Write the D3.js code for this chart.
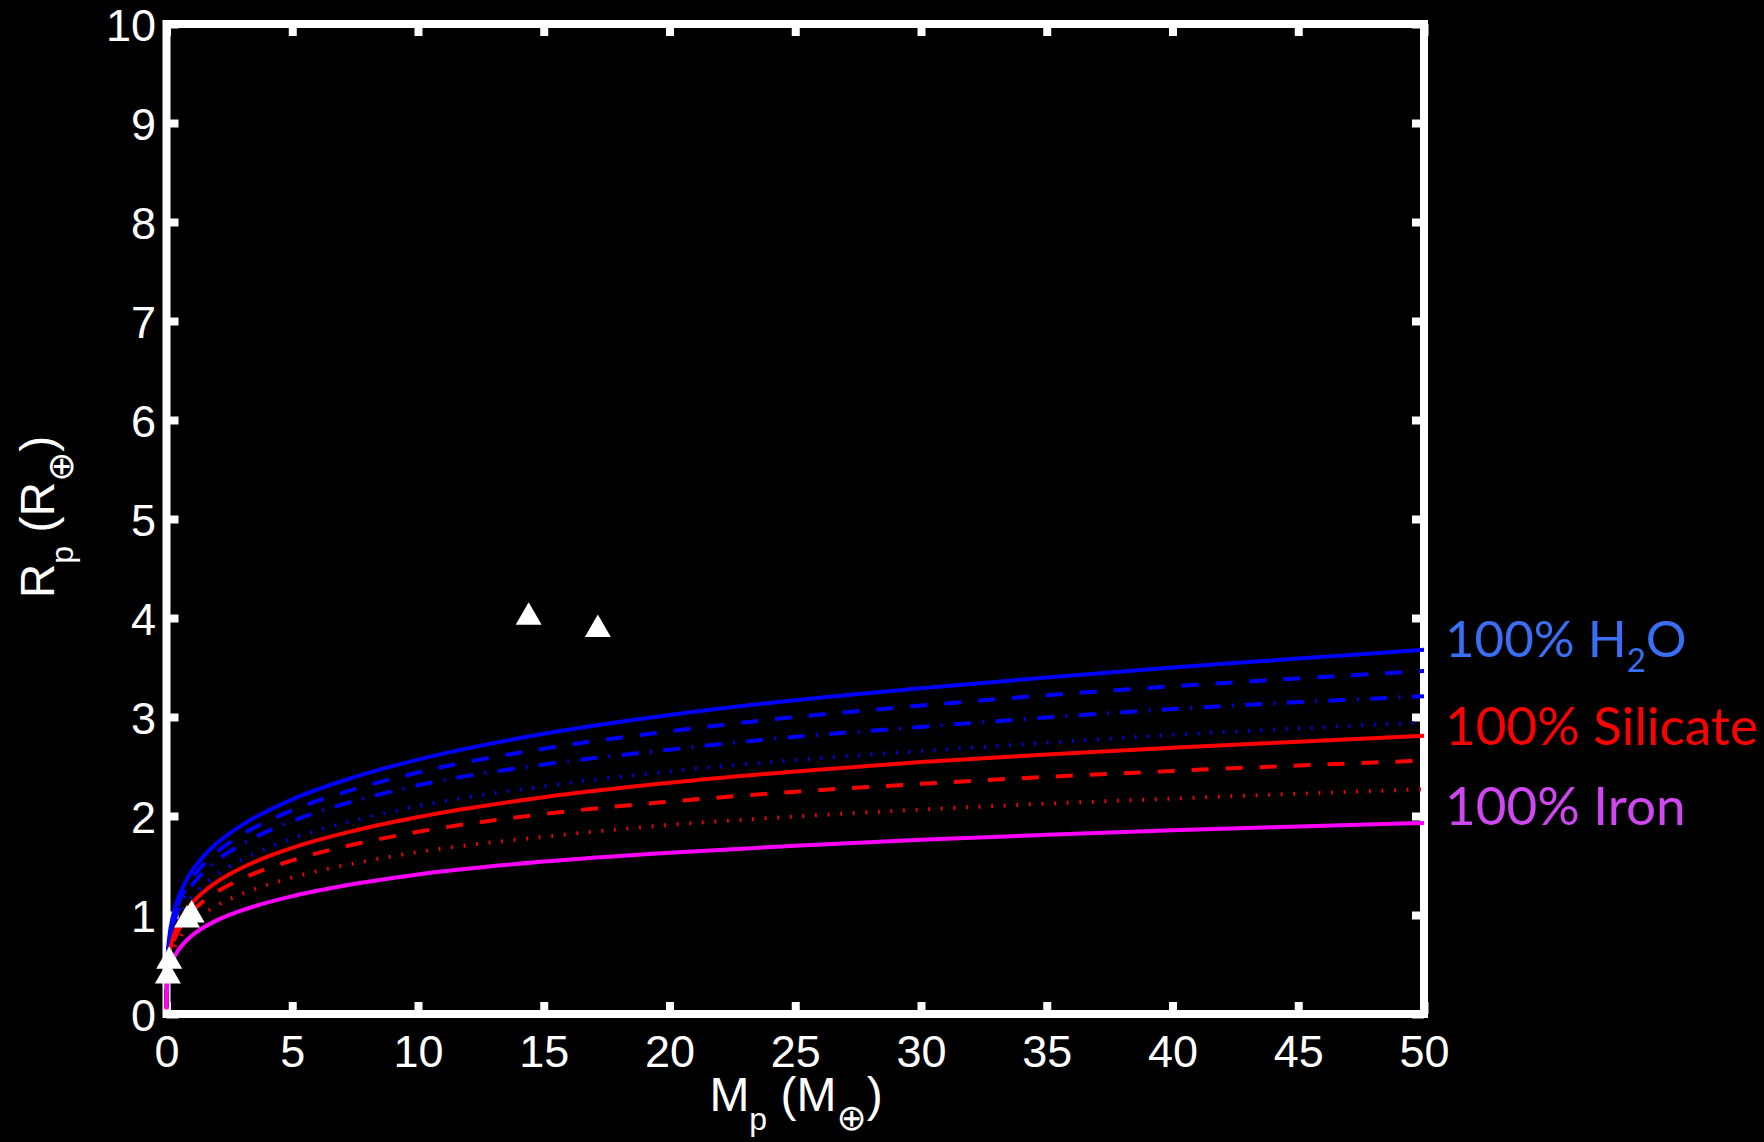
<!DOCTYPE html>
<html>
<head>
<meta charset="utf-8">
<script src="https://cdn.jsdelivr.net/npm/d3@7"></script>
<style>
  html, body { margin: 0; padding: 0; background: #000; }
  svg { display: block; }
</style>
</head>
<body>
<svg id="chart" width="1764" height="1142"></svg>
<script>
// Planet mass (Earth masses) sampled along every model curve
const masses = [0.0001, 0.001, 0.01, 0.05, 0.1, 0.25, 0.5, 0.75, 1, 1.5, 2, 3, 5, 7.5, 10, 15, 20, 25, 30, 35, 40, 45, 50];

// Radii (Earth radii) for each composition model
const rWater100 = [0.083, 0.178, 0.372, 0.612, 0.754, 0.983, 1.194, 1.332, 1.44, 1.60, 1.724, 1.908, 2.168, 2.395, 2.57, 2.83, 3.02, 3.17, 3.29, 3.40, 3.50, 3.59, 3.68];
const rWater75  = [0.079, 0.169, 0.353, 0.581, 0.716, 0.933, 1.133, 1.264, 1.367, 1.518, 1.636, 1.811, 2.057, 2.273, 2.44, 2.68, 2.855, 3.00, 3.115, 3.22, 3.31, 3.39, 3.465];
const rWater50  = [0.075, 0.160, 0.334, 0.550, 0.678, 0.884, 1.073, 1.197, 1.295, 1.438, 1.550, 1.715, 1.949, 2.153, 2.31, 2.52, 2.67, 2.80, 2.90, 2.995, 3.08, 3.15, 3.21];
const rWater25  = [0.068, 0.145, 0.304, 0.500, 0.616, 0.803, 0.975, 1.088, 1.176, 1.307, 1.409, 1.559, 1.771, 1.957, 2.10, 2.30, 2.45, 2.565, 2.655, 2.74, 2.82, 2.885, 2.945];
const rSilicate100 = [0.064, 0.138, 0.288, 0.474, 0.584, 0.761, 0.924, 1.031, 1.115, 1.238, 1.334, 1.477, 1.678, 1.854, 1.99, 2.19, 2.335, 2.45, 2.545, 2.62, 2.69, 2.75, 2.81];
const rSilicate67  = [0.059, 0.127, 0.266, 0.438, 0.540, 0.704, 0.855, 0.954, 1.031, 1.146, 1.234, 1.366, 1.552, 1.715, 1.84, 2.02, 2.145, 2.245, 2.325, 2.395, 2.455, 2.51, 2.56];
const rSilicate33  = [0.053, 0.113, 0.237, 0.389, 0.480, 0.625, 0.759, 0.847, 0.916, 1.018, 1.096, 1.213, 1.379, 1.523, 1.635, 1.79, 1.91, 1.995, 2.065, 2.125, 2.175, 2.225, 2.27];
const rIron100 = [0.046, 0.098, 0.204, 0.336, 0.414, 0.540, 0.656, 0.731, 0.791, 0.878, 0.946, 1.047, 1.190, 1.315, 1.41, 1.54, 1.63, 1.70, 1.76, 1.81, 1.855, 1.895, 1.93];

// Solar-system planets
const planetNames  = ["Mercury", "Venus", "Earth", "Mars", "Uranus", "Neptune"];
const planetMass   = [0.055, 0.815, 1.0, 0.107, 14.4, 17.15];
const planetRadius = [0.383, 0.950, 1.0, 0.532, 4.007, 3.883];

// Axis ticks
const xTicks = [0, 5, 10, 15, 20, 25, 30, 35, 40, 45, 50];
const yTicks = [0, 1, 2, 3, 4, 5, 6, 7, 8, 9, 10];

// Labels at the right of the frame
const labelParts = [
  [["100% H", 0], ["2", 1], ["O", 0]],
  [["100% Silicate", 0]],
  [["100% Iron", 0]]
];

// ---- drawing ----
const svg = d3.select("#chart");
const W = 1764, H = 1142;
const plot = { left: 166.5, right: 1424, top: 24, bottom: 1014 };

svg.append("rect").attr("width", W).attr("height", H).attr("fill", "#000");

const x = d3.scaleLinear().domain([0, 50]).range([plot.left, plot.right]);
const y = d3.scaleLinear().domain([0, 10]).range([plot.bottom, plot.top]);

const tickFont = "'Liberation Sans', Arial, Helvetica, sans-serif";
const axisStroke = 8;

function styleAxis(g) {
  g.select(".domain").remove();
  g.selectAll(".tick line").attr("stroke", "#fff").attr("stroke-width", axisStroke);
  g.selectAll(".tick text").attr("fill", "#fff").attr("font-family", tickFont).attr("font-size", 45);
}

// Bottom axis with labels
const gx = svg.append("g").attr("transform", `translate(0,${plot.bottom})`)
  .call(d3.axisBottom(x).tickValues(xTicks).tickSizeInner(-12).tickSizeOuter(0).tickPadding(21).tickFormat(d3.format("d")));
styleAxis(gx);

// Left axis with labels
const gy = svg.append("g").attr("transform", `translate(${plot.left},0)`)
  .call(d3.axisLeft(y).tickValues(yTicks).tickSizeInner(-12).tickSizeOuter(0).tickPadding(10.5).tickFormat(d3.format("d")));
styleAxis(gy);
gy.selectAll(".tick text").attr("dy", "0.36em");

// Top and right axes: ticks only
const gt = svg.append("g").attr("transform", `translate(0,${plot.top})`)
  .call(d3.axisTop(x).tickValues(xTicks).tickSizeInner(-12).tickSizeOuter(0).tickFormat(""));
styleAxis(gt);
const gr = svg.append("g").attr("transform", `translate(${plot.right},0)`)
  .call(d3.axisRight(y).tickValues(yTicks).tickSizeInner(-12).tickSizeOuter(0).tickFormat(""));
styleAxis(gr);

// Frame
svg.append("rect")
  .attr("x", plot.left).attr("y", plot.top)
  .attr("width", plot.right - plot.left).attr("height", plot.bottom - plot.top)
  .attr("fill", "none").attr("stroke", "#fff").attr("stroke-width", axisStroke);

// Model curves
const series = [
  { r: rWater100,    color: "#0000ff", dash: null },
  { r: rWater75,     color: "#0000ff", dash: "17 17" },
  { r: rWater50,     color: "#0000ff", dash: "17 11.5 1.7 11.5" },
  { r: rWater25,     color: "#0000ff", dash: "1.7 10.9" },
  { r: rSilicate100, color: "#ff0000", dash: null },
  { r: rSilicate67,  color: "#ff0000", dash: "17 17" },
  { r: rSilicate33,  color: "#ff0000", dash: "1.7 10.9" },
  { r: rIron100,     color: "#ff00ff", dash: null }
];

const line = d3.line()
  .x(d => x(d[0]))
  .y(d => y(d[1]))
  .curve(d3.curveMonotoneX);

svg.append("g").selectAll("path")
  .data(series)
  .join("path")
  .attr("d", s => line(masses.map((m, i) => [m, s.r[i]])))
  .attr("fill", "none")
  .attr("stroke", s => s.color)
  .attr("stroke-width", 4)
  .attr("stroke-dasharray", s => s.dash);

// Planets as white triangles (centroid on the data point)
const side = 26, hgt = side * Math.sqrt(3) / 2;
const tri = `M0,${-2 * hgt / 3}L${side / 2},${hgt / 3}L${-side / 2},${hgt / 3}Z`;
svg.append("g").selectAll("path")
  .data(planetNames.map((n, i) => ({ name: n, m: planetMass[i], r: planetRadius[i] })))
  .join("path")
  .attr("d", tri)
  .attr("transform", d => `translate(${x(d.m)},${y(d.r)})`)
  .attr("fill", "#fff");

// Axis titles
const titleFont = "'Liberation Sans', Arial, Helvetica, sans-serif";
function axisTitle(g, sym) {
  const t = g.append("text").attr("text-anchor", "middle").attr("fill", "#fff")
    .attr("font-family", titleFont).attr("font-size", 48);
  t.append("tspan").text(sym);
  t.append("tspan").attr("font-size", 32).attr("dy", 19).text("p");
  t.append("tspan").attr("dy", -19).text(" (" + sym);
  t.append("tspan").attr("font-family", "'DejaVu Sans', sans-serif").attr("font-size", 36)
    .attr("dy", 19).text("\u2295");
  t.append("tspan").attr("dy", -19).text(")");
  return t;
}
axisTitle(svg.append("g").attr("transform", "translate(796,1111)"), "M");
axisTitle(svg.append("g").attr("transform", "translate(54,517) rotate(-90)"), "R");

// Composition labels
const labelColors = ["#3a6ef5", "#ff0000", "#d046f0"];
const labelBaselines = [657, 745, 825];
const labelSizes = [51, 53, 53];
labelParts.forEach((parts, i) => {
  const size = labelSizes[i];
  const t = svg.append("text")
    .attr("x", 1445).attr("y", labelBaselines[i])
    .attr("fill", labelColors[i])
    .attr("font-family", "Lato, 'Open Sans', sans-serif")
    .attr("font-size", size);
  let shifted = 0;
  parts.forEach(([txt, sub]) => {
    const dy = sub ? 15 - shifted : -shifted;
    shifted = sub ? 15 : 0;
    t.append("tspan").attr("dy", dy).attr("font-size", sub ? Math.round(size * 0.64) : size).text(txt);
  });
});
</script>
</body>
</html>
